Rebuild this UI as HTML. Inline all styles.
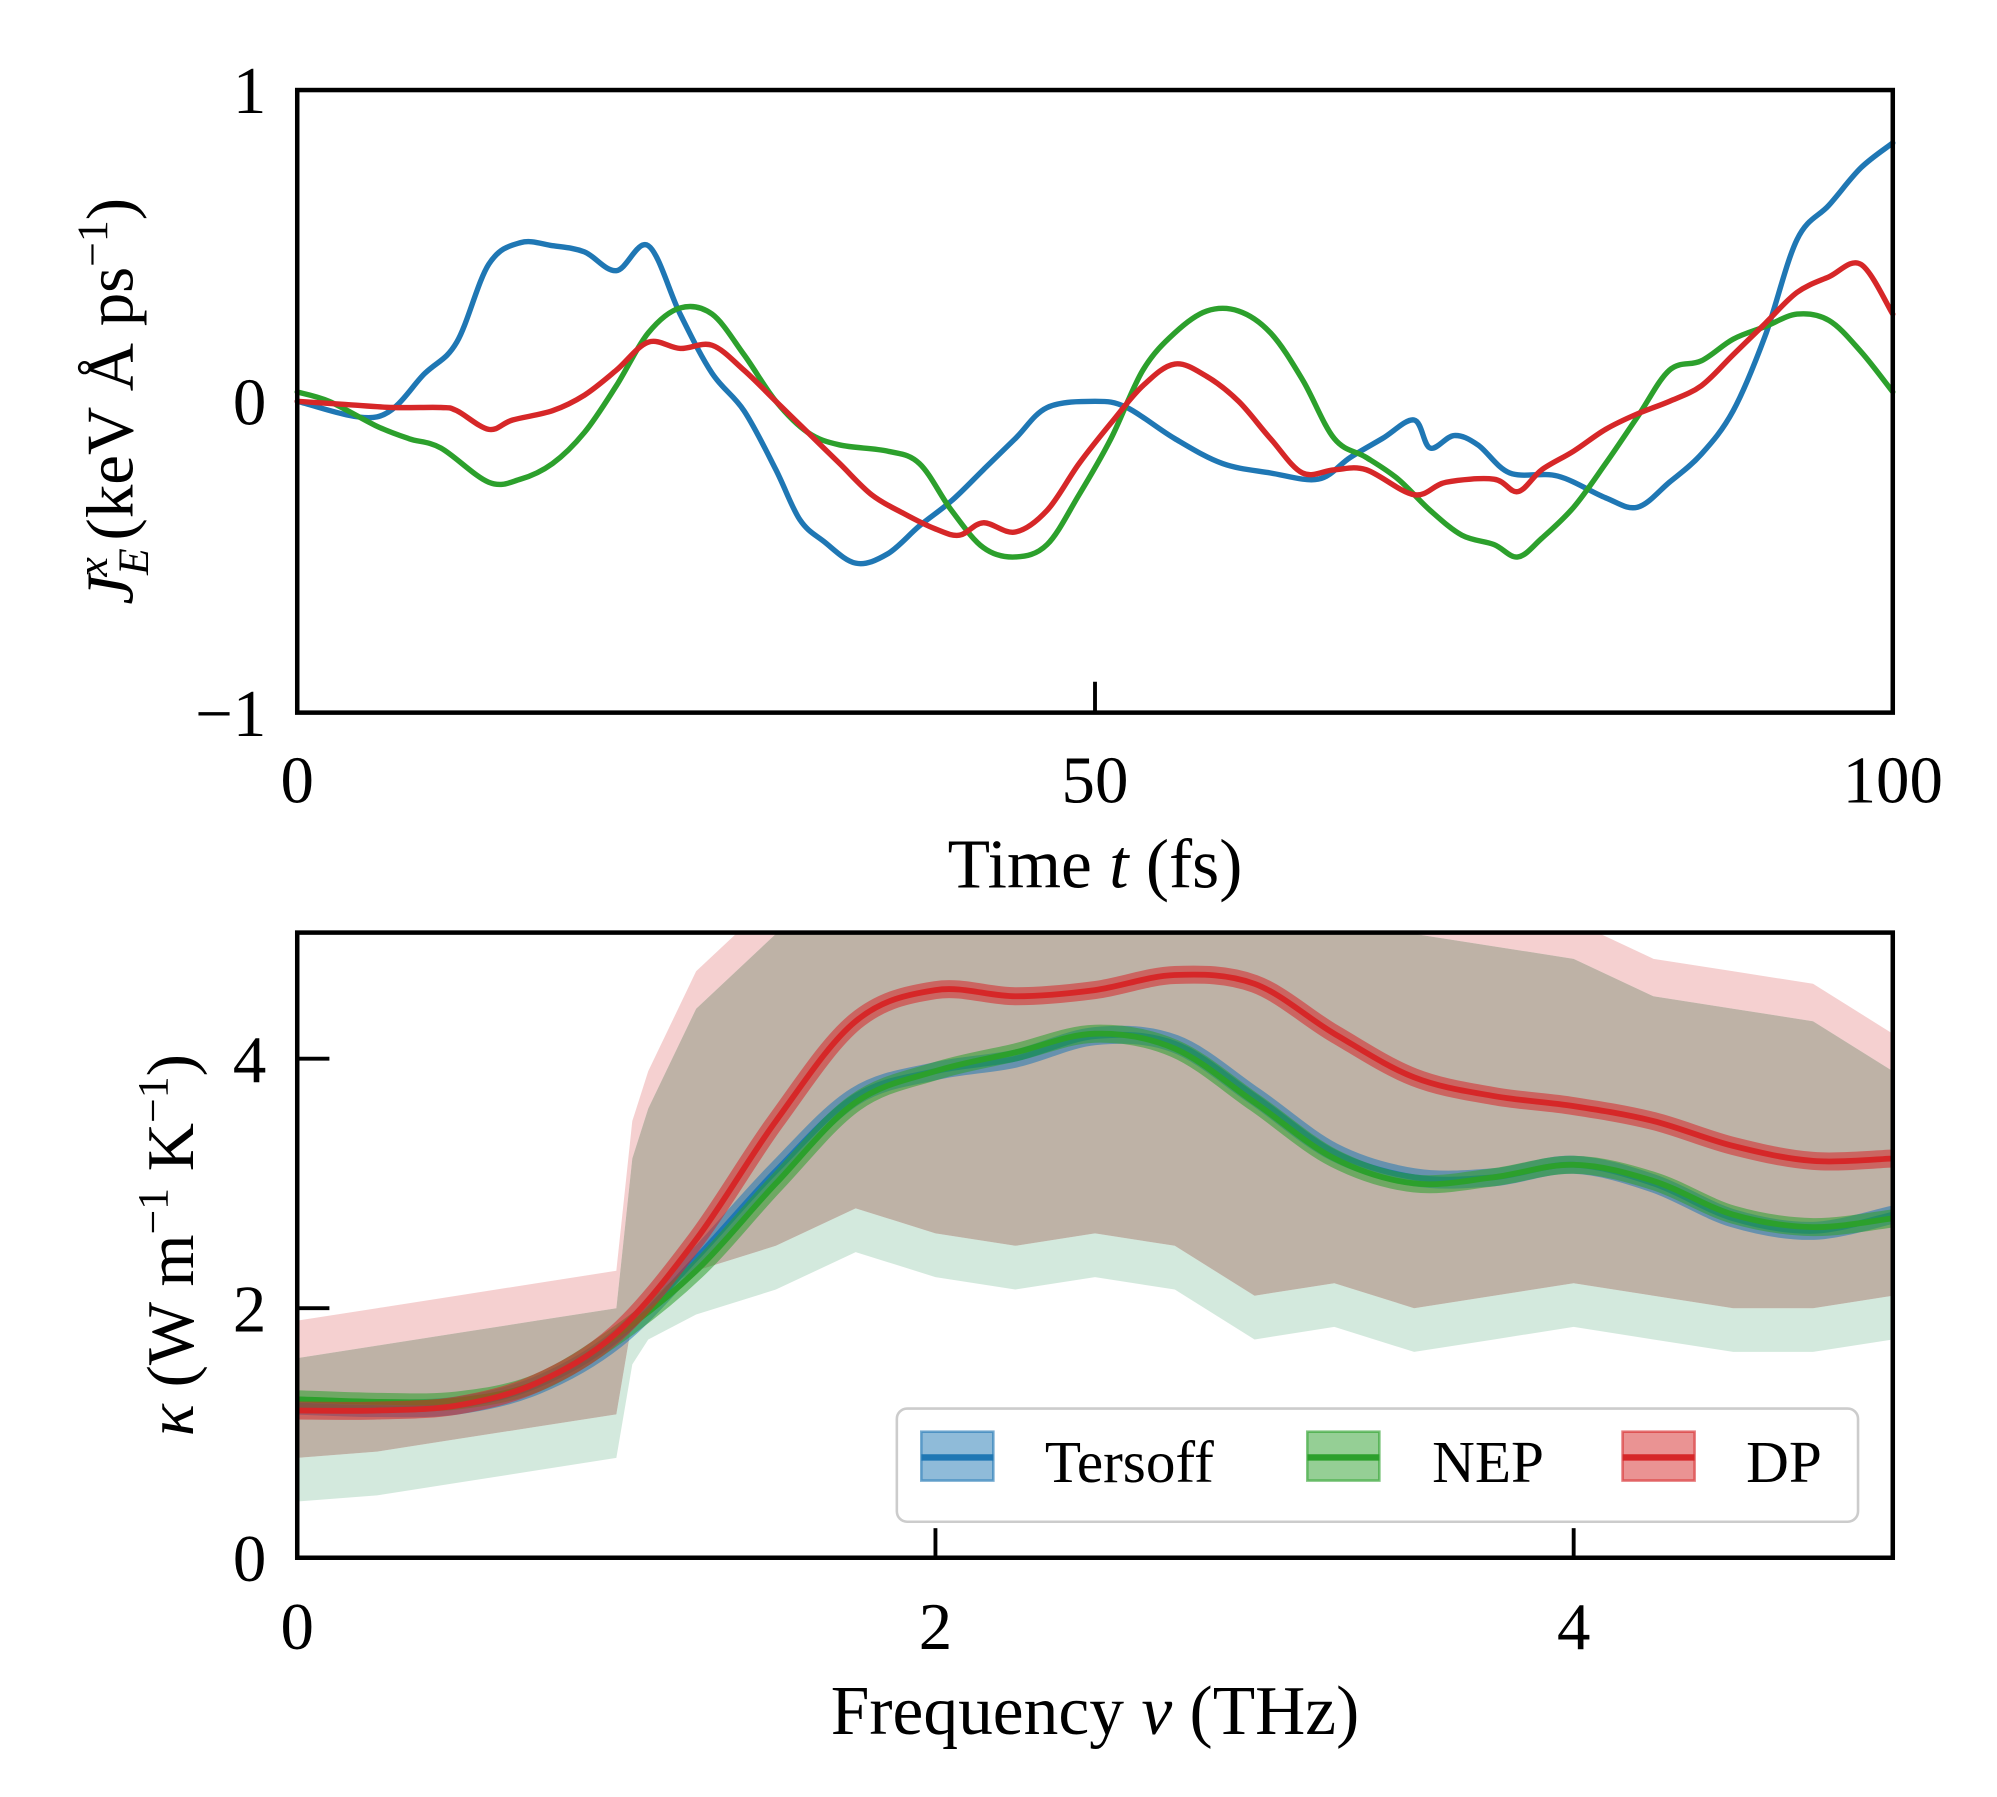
<!DOCTYPE html>
<html><head><meta charset="utf-8"><style>
html,body{margin:0;padding:0;background:#fff;}
svg{display:block;}
text{font-family:"Liberation Serif",serif;fill:#000;}
</style></head><body>
<svg id="chart" width="1997" height="1797" viewBox="0 0 1552 1397" preserveAspectRatio="none" xmlns="http://www.w3.org/2000/svg">
<defs><clipPath id="bclip"><rect x="231" y="725" width="1240" height="486"/></clipPath></defs>
<g id="topPanel"></g>
<g id="botPanel"></g>
</svg>
<script>
// ---- top panel data (time fs, heat current) ----
const tersoffT=[0,5,8,10,12,14,16,18,20,22,24,26,28,30,31.5,33,35,37,39,41,43,45,47,50,52,55,58,61,64,66,68,70,71,72.5,74,76,79,82,84,86,88,90,92,94,96,98,100];
const tersoffJ=[0,-0.05,0.09,0.19,0.44,0.51,0.5,0.48,0.42,0.5,0.28,0.09,-0.03,-0.22,-0.38,-0.45,-0.52,-0.49,-0.4,-0.32,-0.22,-0.12,-0.02,0,-0.02,-0.12,-0.2,-0.23,-0.25,-0.18,-0.12,-0.06,-0.15,-0.11,-0.14,-0.23,-0.24,-0.31,-0.34,-0.26,-0.17,-0.03,0.21,0.52,0.63,0.75,0.83];
const nepT=[0,2,5,7,9,12,14,16,18,20,22,24,26,28,30,32,34,37,39,41,43,45,47,49,51,53,55,57,59,61,63,65,67,69,71,73,75,76.5,78,80,82,84,86,88,90,92,94,96,98,100];
const nepJ=[0.03,0,-0.08,-0.12,-0.15,-0.26,-0.25,-0.2,-0.1,0.05,0.22,0.3,0.28,0.15,0,-0.1,-0.14,-0.16,-0.2,-0.35,-0.47,-0.5,-0.46,-0.3,-0.12,0.1,0.22,0.29,0.29,0.22,0.07,-0.12,-0.18,-0.25,-0.35,-0.43,-0.46,-0.5,-0.44,-0.34,-0.2,-0.05,0.1,0.13,0.2,0.24,0.28,0.26,0.16,0.03];
const dpT=[0,3,6,9,10,12,13.5,16,18,20,22,24,26,28,30,32,34,36,38,40,41.5,43,45,47,49,51,53,55,57,59,61,63,65,67,70,72,75,76.5,78,80,82,84,86,88,90,92,94,96,98,100];
const dpJ=[0,-0.01,-0.02,-0.02,-0.03,-0.09,-0.06,-0.03,0.02,0.1,0.19,0.17,0.18,0.1,0,-0.1,-0.2,-0.3,-0.36,-0.41,-0.43,-0.39,-0.42,-0.35,-0.2,-0.07,0.05,0.12,0.08,0,-0.12,-0.23,-0.22,-0.22,-0.3,-0.26,-0.25,-0.29,-0.22,-0.16,-0.09,-0.04,0,0.05,0.15,0.25,0.35,0.4,0.44,0.28];
const topXTicks=[0,50,100], topYTicks=[1,0,-1];
// ---- bottom panel data (frequency THz, kappa) ----
const freq=[0,0.25,0.5,0.75,1.0,1.25,1.5,1.75,2.0,2.25,2.5,2.75,3.0,3.25,3.5,3.75,4.0,4.25,4.5,4.75,5.0];
const dpK=[1.18,1.18,1.22,1.4,1.8,2.55,3.5,4.3,4.55,4.5,4.55,4.67,4.6,4.2,3.85,3.7,3.62,3.5,3.3,3.18,3.2];
const tersoffK=[1.22,1.2,1.22,1.38,1.75,2.4,3.1,3.7,3.9,4.0,4.18,4.12,3.7,3.25,3.05,3.05,3.15,3.0,2.72,2.62,2.75];
const nepK=[1.27,1.25,1.26,1.4,1.78,2.3,3.0,3.65,3.9,4.05,4.2,4.08,3.65,3.2,3.0,3.05,3.15,3.02,2.75,2.65,2.72];
const rawF=[0,0.25,0.5,0.75,1.0,1.05,1.1,1.25,1.5,1.75,2.0,2.25,2.5,2.75,3.0,3.25,3.5,3.75,4.0,4.25,4.5,4.75,5.0];
const rawHi=[1.6,1.7,1.8,1.9,2.0,3.2,3.6,4.4,5,5,5,5,5,5,5,5,5,4.9,4.8,4.5,4.4,4.3,3.9];
const rawLo=[0.8,0.85,0.95,1.05,1.15,1.9,2.1,2.3,2.5,2.8,2.6,2.5,2.6,2.5,2.1,2.2,2.0,2.1,2.2,2.1,2.0,2.0,2.1];
const botXTicks=[0,2,4], botYTicks=[0,2,4];

const NS='http://www.w3.org/2000/svg';
function mk(parent,tag,attrs,txt){const e=document.createElementNS(NS,tag);for(const k in attrs)e.setAttribute(k,attrs[k]);if(txt!==undefined)e.textContent=txt;parent.appendChild(e);return e;}
const topG=document.getElementById('topPanel'), botG=document.getElementById('botPanel');
const tx=t=>231+(t/100)*1240, ty=v=>312-v*242;
function smoothPath(pts){
  let d='M'+pts[0][0].toFixed(1)+','+pts[0][1].toFixed(1);
  for(let i=0;i<pts.length-1;i++){
    const p0=pts[i-1]||pts[i],p1=pts[i],p2=pts[i+1],p3=pts[i+2]||p2;
    const c1=[p1[0]+(p2[0]-p0[0])/6,p1[1]+(p2[1]-p0[1])/6];
    const c2=[p2[0]-(p3[0]-p1[0])/6,p2[1]-(p3[1]-p1[1])/6];
    d+='C'+c1[0].toFixed(1)+','+c1[1].toFixed(1)+' '+c2[0].toFixed(1)+','+c2[1].toFixed(1)+' '+p2[0].toFixed(1)+','+p2[1].toFixed(1);
  }
  return d;
}
function line(g,xs,ys,fx,fy,color,w,op,name){
  const pts=xs.map((x,i)=>[fx(x),fy(ys[i])]);
  const p=mk(g,'path',{d:smoothPath(pts),fill:'none',stroke:color,'stroke-width':w,'stroke-opacity':op,'stroke-linejoin':'round','stroke-linecap':'round'});
  
  
  return p;
}
line(topG,tersoffT,tersoffJ,tx,ty,'#1f77b4',4.2,1,'tersoff-current-line');
line(topG,nepT,nepJ,tx,ty,'#2ca02c',4.2,1,'nep-current-line');
line(topG,dpT,dpJ,tx,ty,'#d62728',4.2,1,'dp-current-line');
let fr=mk(topG,'rect',{x:231,y:70,width:1240,height:484,fill:'none',stroke:'#000','stroke-width':3.5});


topXTicks.forEach(t=>{
  mk(topG,'line',{x1:tx(t),x2:tx(t),y1:554,y2:530,stroke:'#000','stroke-width':3});
  const l=mk(topG,'text',{x:tx(t),y:624,'text-anchor':'middle','font-size':52},String(t));
  
  
});
topYTicks.forEach(v=>{
  const l=mk(topG,'text',{x:207,y:ty(v)+18,'text-anchor':'end','font-size':52},v<0?'\u2212'+(-v):String(v));
  
  
});
let xl=mk(topG,'text',{x:851,y:690,'text-anchor':'middle','font-size':54});
xl.innerHTML='Time <tspan font-style="italic">t</tspan> (fs)';


let yl=mk(topG,'text',{transform:'translate(103,312) rotate(-90)','text-anchor':'middle','font-size':52});
yl.innerHTML='<tspan font-style="italic">J</tspan><tspan font-style="italic" font-size="34" dy="12">E</tspan><tspan font-style="italic" font-size="34" dx="-22" dy="-32">x</tspan><tspan dy="20"> (keV Å ps</tspan><tspan font-size="34" dy="-20">−1</tspan><tspan dy="20">)</tspan>';



const bx=f=>231+f*248, by=k=>1211-k*97;
const cg=mk(botG,'g',{'clip-path':'url(#bclip)'});
function band(g,xs,hi,lo,color,op,name){
  let d='';xs.forEach((x,i)=>{d+=(i?'L':'M')+bx(x).toFixed(1)+','+by(hi[i]).toFixed(1);});
  for(let i=xs.length-1;i>=0;i--)d+='L'+bx(xs[i]).toFixed(1)+','+by(lo[i]).toFixed(1);
  const p=mk(g,'path',{d:d+'Z',fill:color,'fill-opacity':op});
  
  
}
band(cg,rawF,rawHi.map(v=>v+0.3),rawHi,'#eeb0b0',0.6,'dp-raw-spikes');
band(cg,rawF,rawLo,rawLo.map(v=>v-0.35),'#a8d4bc',0.5,'nep-raw-spikes');
band(cg,rawF,rawHi,rawLo,'#a39180',0.7,'raw-kappa-band');
[[tersoffK,'#1f77b4','tersoff'],[nepK,'#2ca02c','nep'],[dpK,'#d62728','dp']].forEach(([k,c,n])=>{
  line(cg,freq,k,bx,by,c,14,0.55,n+'-kappa-band');
  line(cg,freq,k,bx,by,c,4.5,1,n+'-kappa-line');
});
let fr2=mk(botG,'rect',{x:231,y:725,width:1240,height:486,fill:'none',stroke:'#000','stroke-width':3.5});


botXTicks.forEach(f=>{
  mk(botG,'line',{x1:bx(f),x2:bx(f),y1:1211,y2:1188,stroke:'#000','stroke-width':3});
  const l=mk(botG,'text',{x:bx(f),y:1282,'text-anchor':'middle','font-size':52},String(f));
  
  
});
botYTicks.forEach(v=>{
  mk(botG,'line',{x1:231,x2:256,y1:by(v),y2:by(v),stroke:'#000','stroke-width':3});
  const l=mk(botG,'text',{x:207,y:by(v)+18,'text-anchor':'end','font-size':52},String(v));
  
  
});
let xl2=mk(botG,'text',{x:851,y:1348,'text-anchor':'middle','font-size':54});
xl2.innerHTML='Frequency <tspan font-style="italic">ν</tspan> (THz)';


let yl2=mk(botG,'text',{transform:'translate(150,968) rotate(-90)','text-anchor':'middle','font-size':52});
yl2.innerHTML='<tspan font-style="italic">κ</tspan> (W m<tspan font-size="34" dy="-20">−1</tspan><tspan dy="20"> K</tspan><tspan font-size="34" dy="-20">−1</tspan><tspan dy="20">)</tspan>';


const lg=mk(botG,'g',{});


mk(lg,'rect',{x:697,y:1095,width:747,height:88,rx:8,fill:'#fff','fill-opacity':0.85,stroke:'#ccc','stroke-width':2});
[['Tersoff','#1f77b4',716,812],['NEP','#2ca02c',1016,1113],['DP','#d62728',1261,1357]].forEach(([n,c,px,tx2])=>{
  const e=mk(lg,'g',{});
  
  
  mk(e,'rect',{x:px,y:1113,width:56,height:38,fill:c,'fill-opacity':0.5,stroke:c,'stroke-opacity':0.6,'stroke-width':2});
  mk(e,'line',{x1:px,x2:px+56,y1:1133,y2:1133,stroke:c,'stroke-width':5});
  mk(e,'text',{x:tx2,y:1152,'font-size':46},n);
});
</script>
</body></html>
